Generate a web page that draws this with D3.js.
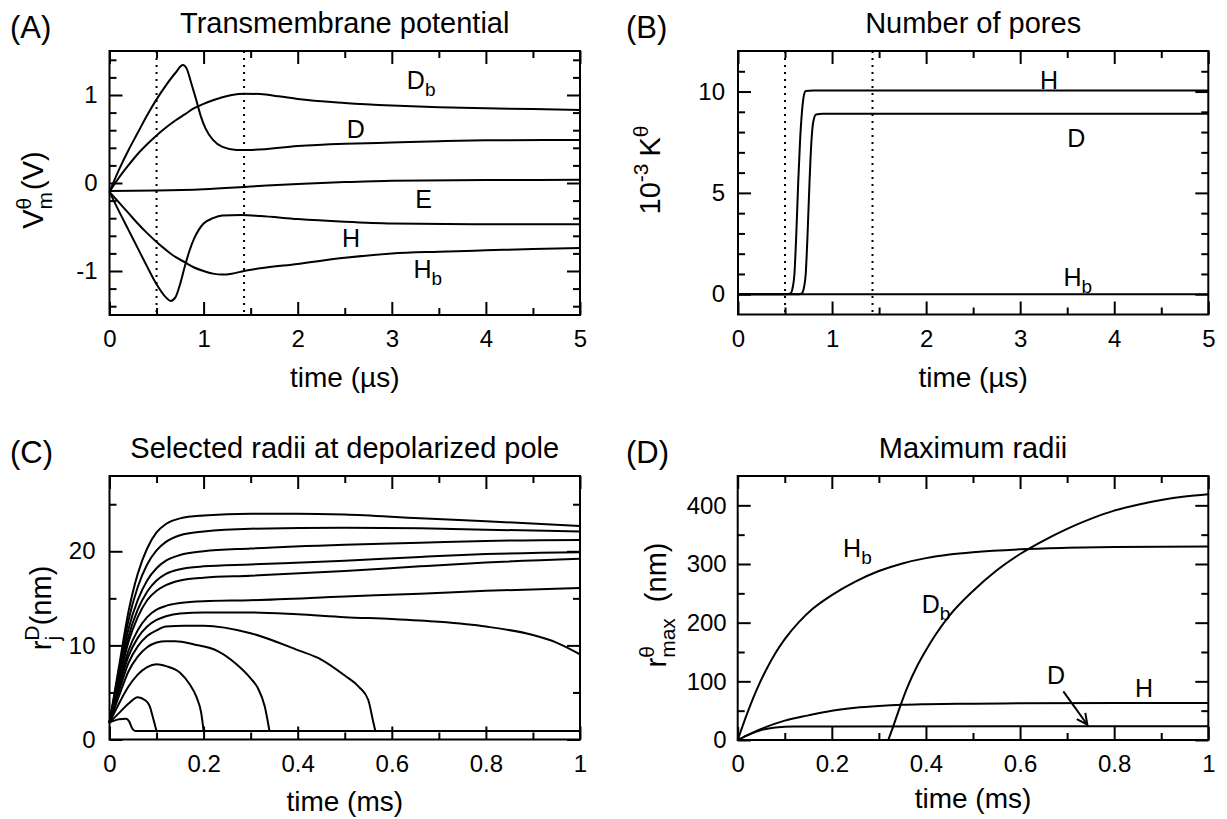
<!DOCTYPE html>
<html>
<head>
<meta charset="utf-8">
<script src="https://cdnjs.cloudflare.com/ajax/libs/d3/7.8.5/d3.min.js"></script>
<style>
    body { margin: 0; background: #fff; }
    svg { font-family: "Liberation Sans", Arial, Helvetica, sans-serif; }
    .axis text { font-family: "Liberation Sans", Arial, Helvetica, sans-serif; font-size: 24px; fill: #000; }
    .axis line { stroke: #000; stroke-width: 2; }
    .axis .domain { display: none; }
</style>
</head>
<body>
<script>
const width = 1227;
const height = 819;

// ---- panel A : transmembrane potential (V) vs time (us)
const usTicks = [0, 1, 2, 3, 4, 5];
const usMinor = [0.5, 1.5, 2.5, 3.5, 4.5];
const vmTicks = [-1, 0, 1];
const vmMinor = [-1.4, -1.2, -0.8, -0.6, -0.4, -0.2, 0.2, 0.4, 0.6, 0.8, 1.2, 1.4];
const pulseMarks = [0.5, 1.43];
const vmD = [[0, -0.1], [0.1, 0.15], [0.2, 0.37], [0.3, 0.57], [0.4, 0.77], [0.5, 0.95], [0.6, 1.11], [0.7, 1.25],
    [0.78, 1.34], [0.82, 1.3], [0.87, 1.13], [0.92, 0.95], [0.97, 0.76], [1.02, 0.62], [1.1, 0.49], [1.2, 0.41],
    [1.35, 0.376], [1.5, 0.376], [2, 0.42], [2.5, 0.445], [3, 0.46], [3.5, 0.475], [4, 0.485], [5, 0.49]];
const vmDb = [[0, -0.1], [0.1, 0.06], [0.2, 0.2], [0.3, 0.33], [0.4, 0.44], [0.5, 0.54], [0.6, 0.63], [0.7, 0.71],
    [0.8, 0.78], [0.9, 0.85], [1, 0.9], [1.1, 0.94], [1.2, 0.975], [1.3, 1.0], [1.43, 1.015], [1.6, 1.01],
    [1.8, 0.985], [2, 0.955], [2.5, 0.91], [3, 0.88], [3.5, 0.86], [4, 0.85], [4.5, 0.84], [5, 0.83]];
const vmE = [[0, -0.09], [0.5, -0.085], [1, -0.07], [1.5, -0.04], [2, -0.01], [2.5, 0.01], [3, 0.025], [4, 0.033], [5, 0.036]];
const vmH = [[0, -0.1], [0.1, -0.32], [0.2, -0.53], [0.3, -0.74], [0.4, -0.95], [0.5, -1.15], [0.6, -1.3], [0.65, -1.34],
    [0.7, -1.3], [0.75, -1.15], [0.8, -0.95], [0.85, -0.77], [0.9, -0.63], [0.95, -0.53], [1, -0.46], [1.1, -0.4],
    [1.2, -0.37], [1.4, -0.365], [1.6, -0.375], [2, -0.41], [2.5, -0.44], [3, -0.46], [4, -0.47], [5, -0.47]];
const vmHb = [[0, -0.1], [0.1, -0.22], [0.2, -0.34], [0.3, -0.46], [0.4, -0.57], [0.5, -0.67], [0.6, -0.76], [0.7, -0.84],
    [0.8, -0.9], [0.9, -0.96], [1, -1.0], [1.1, -1.03], [1.2, -1.04], [1.3, -1.03], [1.43, -1.0], [1.6, -0.97],
    [2, -0.92], [2.5, -0.85], [3, -0.8], [3.5, -0.78], [4, -0.765], [4.5, -0.75], [5, -0.74]];

// ---- panel B : number of pores (10^-3 K)
const kTicks = [0, 5, 10];
const kMinor = [1, 2, 3, 4, 6, 7, 8, 9, 11];
const kH = [[0, 0], [0.52, 0], [0.56, 0.05], [0.58, 0.3], [0.6, 1], [0.62, 3], [0.64, 5.5], [0.66, 7.6], [0.68, 9],
    [0.7, 9.8], [0.72, 10.03], [0.8, 10.05], [5, 10.05]];
const kD = [[0, 0], [0.65, 0], [0.68, 0.05], [0.7, 0.3], [0.72, 1], [0.74, 3], [0.76, 5.5], [0.78, 7.5], [0.8, 8.5],
    [0.83, 8.87], [0.9, 8.9], [5, 8.9]];
const kHb = [[0, 0], [5, 0]];

// ---- panel C : selected radii at depolarized pole (nm) vs time (ms)
const msTicks = [0, 0.2, 0.4, 0.6, 0.8, 1];
const msMinor = [0.1, 0.3, 0.5, 0.7, 0.9];
const rTicks = [0, 10, 20];
const rMinor = [5, 15, 25];
const radii = [
    [[0, 1.8], [0.01, 2.0], [0.02, 2.15], [0.035, 2.2], [0.042, 1.9], [0.048, 1.2], [0.055, 0.9], [1, 0.9]],
    [[0, 1.8], [0.02, 2.8], [0.04, 3.8], [0.06, 4.5], [0.075, 4.2], [0.085, 3.6], [0.092, 2.4], [0.1, 0.9]],
    [[0, 1.8], [0.02, 3.8], [0.04, 5.6], [0.06, 6.9], [0.08, 7.7], [0.1, 8.0], [0.12, 7.8], [0.15, 7.1], [0.17, 5.9],
        [0.185, 4.5], [0.195, 2.8], [0.2, 0.9]],
    [[0, 1.8], [0.02, 4.6], [0.04, 7.2], [0.06, 8.8], [0.08, 9.8], [0.1, 10.3], [0.12, 10.45], [0.14, 10.45], [0.18, 10.1],
        [0.23, 9.4], [0.27, 8.0], [0.3, 6.5], [0.315, 5.5], [0.33, 3.5], [0.34, 0.9]],
    [[0, 1.8], [0.02, 5.1], [0.04, 8.1], [0.06, 9.9], [0.08, 11.0], [0.1, 11.6], [0.12, 12.0], [0.16, 12.1], [0.2, 12.1],
        [0.3, 11.3], [0.4, 9.5], [0.45, 8.5], [0.5, 6.8], [0.53, 5.6], [0.55, 4.2], [0.56, 2.0], [0.565, 0.9]],
    [[0, 1.8], [0.02, 5.5], [0.04, 8.8], [0.06, 10.8], [0.08, 12.0], [0.1, 12.7], [0.12, 13.1], [0.15, 13.4], [0.2, 13.5],
        [0.3, 13.5], [0.4, 13.3], [0.5, 13.0], [0.6, 12.8], [0.7, 12.5], [0.8, 12.0], [0.9, 11.1], [0.95, 10.3], [1, 9.05]],
    [[0, 1.8], [0.02, 5.8], [0.04, 9.4], [0.06, 11.6], [0.08, 13.0], [0.1, 13.8], [0.12, 14.2], [0.15, 14.5], [0.2, 14.7],
        [0.3, 14.8], [0.5, 15.2], [0.66, 15.5], [0.8, 15.8], [1, 16.1]],
    [[0, 1.8], [0.02, 6.2], [0.04, 10.3], [0.06, 13.0], [0.08, 14.8], [0.1, 15.8], [0.12, 16.4], [0.15, 16.9], [0.2, 17.2],
        [0.3, 17.4], [0.5, 17.9], [0.66, 18.4], [0.8, 18.8], [1, 19.2]],
    [[0, 1.8], [0.02, 6.5], [0.04, 10.9], [0.06, 13.8], [0.08, 15.7], [0.1, 16.9], [0.12, 17.6], [0.15, 18.1], [0.2, 18.4],
        [0.3, 18.6], [0.5, 19.0], [0.66, 19.4], [0.8, 19.7], [1, 19.9]],
    [[0, 1.8], [0.02, 6.9], [0.04, 11.7], [0.06, 14.8], [0.08, 16.9], [0.1, 18.2], [0.12, 19.0], [0.15, 19.6], [0.2, 20.0],
        [0.3, 20.3], [0.5, 20.7], [0.66, 20.9], [0.8, 21.1], [1, 21.2]],
    [[0, 1.8], [0.02, 7.3], [0.04, 12.6], [0.06, 16.2], [0.08, 18.6], [0.1, 20.1], [0.12, 21.0], [0.15, 21.7], [0.2, 22.1],
        [0.3, 22.4], [0.5, 22.5], [0.66, 22.45], [0.8, 22.3], [1, 22.1]],
    [[0, 1.8], [0.02, 7.7], [0.04, 13.5], [0.06, 17.6], [0.08, 20.3], [0.1, 22.0], [0.12, 22.9], [0.15, 23.5], [0.2, 23.8],
        [0.3, 24.0], [0.4, 24.0], [0.5, 23.9], [0.66, 23.5], [0.8, 23.2], [1, 22.7]]
];

// ---- panel D : maximum radii (nm) vs time (ms)
const rmaxTicks = [0, 100, 200, 300, 400];
const rmaxMinor = [50, 150, 250, 350];
const rmaxHb = [[0, 0], [0.02, 45], [0.04, 85], [0.06, 119], [0.08, 148], [0.1, 172], [0.13, 201], [0.16, 224], [0.2, 247],
    [0.25, 270], [0.3, 288], [0.35, 301], [0.4, 310], [0.45, 316], [0.5, 320], [0.6, 325], [0.7, 327.5], [0.8, 329], [1, 330]];
const rmaxDb = [[0.32, 0], [0.33, 22], [0.345, 57], [0.36, 89], [0.38, 124], [0.4, 153], [0.42, 179], [0.45, 212],
    [0.5, 254], [0.55, 289], [0.6, 317], [0.65, 340], [0.7, 360], [0.75, 377], [0.8, 391], [0.85, 401], [0.9, 409],
    [0.95, 415], [1, 419]];
const rmaxH = [[0, 0], [0.02, 8], [0.05, 19], [0.1, 33], [0.15, 42], [0.2, 50], [0.25, 55], [0.3, 58], [0.35, 60],
    [0.4, 61], [0.5, 62], [0.6, 62.5], [1, 63]];
const rmaxD = [[0, 0], [0.02, 8], [0.05, 17], [0.08, 21.5], [0.12, 23], [0.2, 23.2], [1, 23.3]];

let svg = d3.select("body").append("svg")
    .attr("width", width)
    .attr("height", height);

const fmt = d => String(d);
const line = (x, y) => d3.line()
    .x(d => x(d[0]))
    .y(d => y(d[1]))
    .curve(d3.curveMonotoneX);

function panel(p) {
    let g = svg.append("g");
    let x = d3.scaleLinear().domain(p.xDomain).range([p.left, p.right]);
    let y = d3.scaleLinear().domain(p.yDomain).range([p.bottom, p.top]);

    // inward ticks on all four sides, major + minor
    let ax = g.append("g").attr("class", "axis");
    ax.append("g").attr("transform", "translate(0," + p.bottom + ")")
        .call(d3.axisBottom(x).tickValues(p.xTicks).tickSize(-13).tickPadding(15).tickFormat(fmt));
    ax.append("g").attr("transform", "translate(0," + p.bottom + ")")
        .call(d3.axisBottom(x).tickValues(p.xMinor).tickSize(-7).tickFormat(""));
    ax.append("g").attr("transform", "translate(0," + p.top + ")")
        .call(d3.axisTop(x).tickValues(p.xTicks).tickSize(-13).tickFormat(""));
    ax.append("g").attr("transform", "translate(0," + p.top + ")")
        .call(d3.axisTop(x).tickValues(p.xMinor).tickSize(-7).tickFormat(""));
    ax.append("g").attr("transform", "translate(" + p.left + ",0)")
        .call(d3.axisLeft(y).tickValues(p.yTicks).tickSize(-13).tickPadding(p.yPad).tickFormat(fmt));
    ax.append("g").attr("transform", "translate(" + p.left + ",0)")
        .call(d3.axisLeft(y).tickValues(p.yMinor).tickSize(-7).tickFormat(""));
    ax.append("g").attr("transform", "translate(" + p.right + ",0)")
        .call(d3.axisRight(y).tickValues(p.yTicks).tickSize(-13).tickFormat(""));
    ax.append("g").attr("transform", "translate(" + p.right + ",0)")
        .call(d3.axisRight(y).tickValues(p.yMinor).tickSize(-7).tickFormat(""));

    (p.marks || []).forEach(m => {
        g.append("line")
            .attr("x1", x(m)).attr("x2", x(m))
            .attr("y1", p.top).attr("y2", p.bottom)
            .attr("stroke", "#000")
            .attr("stroke-width", 2)
            .attr("stroke-dasharray", "2,5");
    });

    g.selectAll("path.curve")
        .data(p.series)
        .enter()
        .append("path")
        .attr("class", "curve")
        .attr("fill", "none")
        .attr("stroke", "#000")
        .attr("stroke-width", 2)
        .attr("stroke-linejoin", "round")
        .attr("d", line(x, y));

    g.append("rect")
        .attr("x", p.left).attr("y", p.top)
        .attr("width", p.right - p.left).attr("height", p.bottom - p.top)
        .attr("fill", "none").attr("stroke", "#000").attr("stroke-width", 2);

    // panel letter + title
    g.append("text").attr("x", p.letterX).attr("y", p.letterY)
        .attr("font-size", 31).text(p.letter);
    g.append("text").attr("x", (p.left + p.right) / 2).attr("y", p.titleY)
        .attr("text-anchor", "middle").attr("font-size", 29).text(p.title);
    g.append("text").attr("x", (p.left + p.right) / 2).attr("y", p.xLabelY)
        .attr("text-anchor", "middle").attr("font-size", 28).text(p.xLabel);

    // rotated y label built from pieces
    let yl = g.append("text")
        .attr("transform", "translate(" + p.yLabelX + "," + p.yLabelY + ") rotate(-90)")
        .attr("text-anchor", "middle")
        .attr("font-size", 29);
    p.yLabel.forEach(s => {
        yl.append("tspan")
            .attr("dy", s.dy || 0)
            .attr("dx", s.dx || 0)
            .attr("font-size", s.size || 29)
            .text(s.t);
    });

    (p.labels || []).forEach(l => {
        let t = g.append("text")
            .attr("x", x(l.x))
            .attr("y", y(l.y) + 9)
            .attr("font-size", 25)
            .text(l.main);
        if (l.sub) {
            t.append("tspan").attr("dy", 7).attr("font-size", 19).text(l.sub);
        }
    });

    if (p.arrow) {
        let a = p.arrow;
        let x1 = x(a[0][0]), y1 = y(a[0][1]), x2 = x(a[1][0]), y2 = y(a[1][1]);
        let ang = Math.atan2(y2 - y1, x2 - x1);
        g.append("line").attr("x1", x1).attr("y1", y1).attr("x2", x2).attr("y2", y2)
            .attr("stroke", "#000").attr("stroke-width", 2);
        let h = 12, w = 0.45;
        g.append("path")
            .attr("d", "M" + (x2 - h * Math.cos(ang - w)) + "," + (y2 - h * Math.sin(ang - w)) +
                "L" + x2 + "," + y2 +
                "L" + (x2 - h * Math.cos(ang + w)) + "," + (y2 - h * Math.sin(ang + w)))
            .attr("fill", "none").attr("stroke", "#000").attr("stroke-width", 2);
    }
}

panel({
    left: 109.5, right: 580, top: 51, bottom: 315,
    xDomain: [0, 5], yDomain: [-1.5, 1.5],
    xTicks: usTicks, xMinor: usMinor, yTicks: vmTicks, yMinor: vmMinor, yPad: 12,
    marks: pulseMarks,
    series: [vmD, vmDb, vmE, vmH, vmHb],
    letter: "(A)", letterX: 10, letterY: 38,
    title: "Transmembrane potential", titleY: 33,
    xLabelY: 387, xLabel: "time (\u00b5s)",
    yLabelX: 43, yLabelY: 190,
    yLabel: [{t: "V"}, {t: "\u03b8", size: 21, dy: -12}, {t: "m", size: 21, dx: -11.7, dy: 21}, {t: "(V)", dx: 2, dy: -9}],
    labels: [
        {x: 3.16, y: 1.17, main: "D", sub: "b"},
        {x: 2.52, y: 0.61, main: "D"},
        {x: 3.25, y: -0.18, main: "E"},
        {x: 2.47, y: -0.63, main: "H"},
        {x: 3.23, y: -0.98, main: "H", sub: "b"}
    ]
});

panel({
    left: 738, right: 1208.3, top: 51, bottom: 314.5,
    xDomain: [0, 5], yDomain: [-1, 12],
    xTicks: usTicks, xMinor: usMinor, yTicks: kTicks, yMinor: kMinor, yPad: 13,
    marks: pulseMarks,
    series: [kH, kD, kHb],
    letter: "(B)", letterX: 626, letterY: 38,
    title: "Number of pores", titleY: 33,
    xLabelY: 387, xLabel: "time (\u00b5s)",
    yLabelX: 660, yLabelY: 170,
    yLabel: [{t: "10"}, {t: "-3", size: 21, dy: -12}, {t: "K", dx: 7, dy: 12}, {t: "\u03b8", size: 21, dy: -12}, {t: "", dy: 12}],
    labels: [
        {x: 3.21, y: 10.59, main: "H"},
        {x: 3.5, y: 7.69, main: "D"},
        {x: 3.46, y: 0.85, main: "H", sub: "b"}
    ]
});

panel({
    left: 109.5, right: 580, top: 476, bottom: 739.5,
    xDomain: [0, 1], yDomain: [0, 28],
    xTicks: msTicks, xMinor: msMinor, yTicks: rTicks, yMinor: rMinor, yPad: 14,
    series: radii,
    letter: "(C)", letterX: 10, letterY: 463,
    title: "Selected radii at depolarized pole", titleY: 458,
    xLabelY: 811, xLabel: "time (ms)",
    yLabelX: 51, yLabelY: 608,
    yLabel: [{t: "r"}, {t: "D", size: 21, dy: -12}, {t: "j", size: 21, dx: -15, dy: 21}, {t: "(nm)", dx: 10.5, dy: -9}],
    labels: []
});

panel({
    left: 737.7, right: 1208.3, top: 476, bottom: 740,
    xDomain: [0, 1], yDomain: [0, 450],
    xTicks: msTicks, xMinor: msMinor, yTicks: rmaxTicks, yMinor: rmaxMinor, yPad: 11,
    series: [rmaxHb, rmaxDb, rmaxH, rmaxD],
    letter: "(D)", letterX: 626, letterY: 463,
    title: "Maximum radii", titleY: 458,
    xLabelY: 808, xLabel: "time (ms)",
    yLabelX: 666, yLabelY: 605,
    yLabel: [{t: "r"}, {t: "\u03b8", size: 21, dy: -12}, {t: "max", size: 21, dx: -11.7, dy: 21}, {t: "(nm)", dx: 16, dy: -9}],
    labels: [
        {x: 0.224, y: 327, main: "H", sub: "b"},
        {x: 0.391, y: 232, main: "D", sub: "b"},
        {x: 0.657, y: 111, main: "D"},
        {x: 0.844, y: 89, main: "H"}
    ],
    arrow: [[0.692, 83], [0.743, 26]]
});
</script>
</body>
</html>
